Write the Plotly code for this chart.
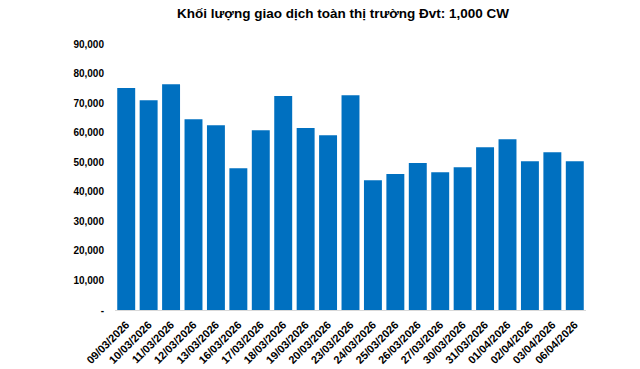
import plotly.graph_objects as go

dates = ["09/03/2026", "10/03/2026", "11/03/2026", "12/03/2026", "13/03/2026",
         "16/03/2026", "17/03/2026", "18/03/2026", "19/03/2026", "20/03/2026",
         "23/03/2026", "24/03/2026", "25/03/2026", "26/03/2026", "27/03/2026",
         "30/03/2026", "31/03/2026", "01/04/2026", "02/04/2026", "03/04/2026",
         "06/04/2026"]
volumes = [75100, 71000, 76400, 64500, 62500, 48000, 60800, 72400, 61600, 59100,
           72700, 43900, 46000, 49700, 46600, 48300, 55100, 57800, 50300, 53400,
           50300]
tick_vals = [0, 10000, 20000, 30000, 40000, 50000, 60000, 70000, 80000, 90000]
tick_text = ["-", "10,000", "20,000", "30,000", "40,000", "50,000", "60,000",
             "70,000", "80,000", "90,000"]

fig = go.Figure(go.Bar(x=dates, y=volumes, marker_color="#0070C0",
                       marker_line_width=0))

fig.update_layout(
    width=640, height=369,
    margin=dict(l=115, r=54, t=44, b=59, autoexpand=False),
    paper_bgcolor="white", plot_bgcolor="white",
    bargap=0.2,
    font=dict(family="Liberation Sans, Arial", color="black"),
    title=dict(text="<b>Khối lượng giao dịch toàn thị trường Đvt: 1,000 CW</b>",
               x=0.536, xanchor="center", y=0.965, yanchor="middle",
               font=dict(size=13.5, color="black")),
    showlegend=False,
)
fig.update_xaxes(type="category", showgrid=False, showline=True,
                 linecolor="#D9D9D9", linewidth=1, tickangle=-45,
                 tickfont=dict(size=11, family="Liberation Sans, Arial"),
                 ticks="", ticklabelstandoff=3, automargin=False)
fig.update_xaxes(tickprefix="<b>", ticksuffix="</b>")
fig.update_yaxes(range=[0, 90000], tickvals=tick_vals, ticktext=["<b>%s</b>" % t for t in tick_text],
                 showgrid=False, zeroline=False, showline=False, automargin=False,
                 tickfont=dict(size=10), ticklabelstandoff=10)

fig.write_html("out.html", config={"displayModeBar": False},
               post_script="document.body.style.margin='0';")
